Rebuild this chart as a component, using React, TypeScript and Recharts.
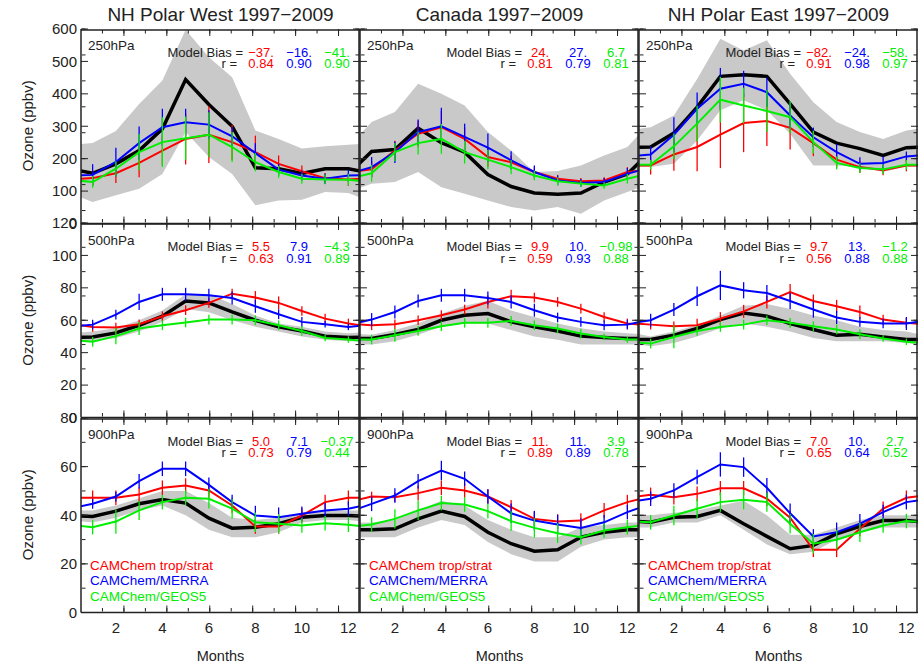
import { ComposedChart, Line, Area, XAxis, YAxis, ErrorBar } from 'recharts'

const months = [1, 2, 3, 4, 5, 6, 7, 8, 9, 10, 11, 12]
const evenMonths = [2, 4, 6, 8, 10, 12]
const regionTitles = ['NH Polar West 1997−2009', 'Canada 1997−2009', 'NH Polar East 1997−2009']
const levelLabels = ['250hPa', '500hPa', '900hPa']
const modelNames = ['CAMChem trop/strat', 'CAMChem/MERRA', 'CAMChem/GEOS5']
const yMax = [600, 120, 80]
const yStep = [100, 20, 20]
const yMinorStep = [20, 5, 5]

// ---- 250 hPa ----
const westObs250 = [155, 184, 225, 292, 444, 367, 300, 172, 169, 154, 169, 169]
const westLo250 = [66, 87, 107, 153, 282, 205, 153, 56, 71, 73, 97, 94]
const westHi250 = [248, 285, 369, 441, 598, 513, 451, 287, 261, 231, 238, 243]
const westTrop250 = [140, 155, 187, 225, 261, 274, 251, 220, 184, 161, 140, 136]
const westMerra250 = [150, 190, 248, 297, 312, 305, 269, 217, 166, 148, 138, 148]
const westGeos250 = [128, 169, 220, 251, 263, 274, 236, 189, 159, 138, 136, 135]
const westTropErr250 = [25, 30, 44, 46, 79, 87, 54, 51, 26, 18, 15, 20]
const westMerraErr250 = [33, 44, 51, 57, 42, 44, 28, 31, 18, 15, 16, 18]
const westGeosErr250 = [18, 23, 56, 77, 67, 69, 46, 28, 18, 15, 15, 18]

const canObs250 = [222, 228, 294, 249, 220, 151, 114, 94, 90, 94, 128, 153]
const canLo250 = [123, 128, 159, 112, 92, 71, 51, 40, 51, 30, 71, 97]
const canHi250 = [313, 344, 431, 400, 364, 282, 225, 159, 162, 179, 210, 236]
const canTrop250 = [167, 225, 277, 297, 261, 205, 189, 159, 138, 130, 133, 159]
const canMerra250 = [174, 220, 282, 300, 267, 234, 195, 159, 133, 125, 128, 153]
const canGeos250 = [155, 220, 248, 261, 220, 197, 174, 148, 130, 123, 117, 138]
const canTropErr250 = [25, 30, 40, 50, 35, 30, 20, 15, 12, 10, 10, 15]
const canMerraErr250 = [31, 33, 39, 57, 41, 44, 28, 20, 15, 12, 12, 18]
const canGeosErr250 = [26, 28, 35, 46, 35, 30, 22, 15, 12, 10, 10, 15]

const eastObs250 = [236, 279, 359, 454, 459, 454, 369, 282, 248, 231, 210, 234]
const eastLo250 = [174, 184, 256, 349, 380, 349, 277, 179, 179, 174, 159, 176]
const eastHi250 = [297, 333, 446, 570, 534, 565, 462, 374, 313, 282, 261, 287]
const eastTrop250 = [179, 213, 236, 274, 310, 316, 295, 248, 197, 174, 164, 179]
const eastMerra250 = [213, 274, 354, 416, 431, 405, 333, 266, 220, 184, 187, 207]
const eastGeos250 = [181, 238, 308, 382, 364, 347, 328, 251, 187, 171, 167, 181]
const eastTropErr250 = [28, 50, 75, 103, 90, 77, 67, 40, 25, 18, 15, 18]
const eastMerraErr250 = [25, 54, 50, 64, 40, 45, 40, 30, 25, 20, 20, 15]
const eastGeosErr250 = [15, 40, 55, 70, 55, 65, 50, 35, 20, 15, 15, 15]

// ---- 500 hPa ----
const westObs500 = [49.7, 52.2, 56.9, 62.5, 71.9, 70.7, 65.1, 60, 55.9, 53.4, 50.2, 49.3]
const westLo500 = [47, 49, 53, 59, 67, 65, 60, 56, 53, 50, 48, 47]
const westHi500 = [53, 55, 60, 66, 76, 76, 70, 63, 58, 56, 53, 52]
const westTrop500 = [55.9, 55.5, 57.5, 62.5, 66.2, 70.7, 76.4, 74, 70.7, 65.7, 61, 58]
const westMerra500 = [57.3, 63.5, 71.3, 76, 76, 75.4, 73.7, 68.6, 63.7, 59, 57.5, 55.9]
const westGeos500 = [46.7, 50.2, 54.9, 56.9, 58.6, 60.4, 60.4, 60, 56.9, 53.4, 49.1, 48.1]
const westTropErr500 = [3, 3, 3, 3, 3, 3, 3, 4, 4, 3, 3, 3]
const westMerraErr500 = [3, 3, 5, 4, 4, 4, 4, 4, 3, 3, 2, 2]
const westGeosErr500 = [3, 5, 4, 3, 3, 3, 3, 3, 3, 3, 2, 2]

const canObs500 = [48.7, 51.2, 54.3, 60, 63.1, 64.1, 59, 55.9, 53.4, 50.2, 49.3, 48.7]
const canLo500 = [45, 47, 51, 56, 58, 58, 54, 50, 48, 45, 45, 45]
const canHi500 = [51, 54, 58, 64, 69, 72, 66, 62, 58, 55, 53, 52]
const canTrop500 = [56.9, 57.5, 60, 63.1, 66.6, 71.3, 74.8, 74, 71.3, 67.2, 62, 58]
const canMerra500 = [60.4, 65.1, 71.9, 75.4, 75.4, 73.7, 71.3, 66.2, 61.7, 59, 56.9, 57.3]
const canGeos500 = [48.1, 50.8, 53.4, 56.3, 58.4, 58.4, 59.6, 56.9, 54.9, 51.8, 49.7, 48.1]
const canTropErr500 = [3, 3, 3, 3, 3, 4, 4, 3, 3, 3, 3, 3]
const canMerraErr500 = [4, 4, 4, 4, 4, 4, 4, 4, 3, 3, 3, 3]
const canGeosErr500 = [3, 4, 3, 3, 3, 3, 3, 3, 3, 3, 2, 2]

const eastObs500 = [48.1, 50.8, 54.9, 60.4, 64.5, 62.5, 58, 54.3, 50.8, 51.4, 49.7, 48.1]
const eastLo500 = [44, 46, 50, 55, 58, 56, 53, 49, 47, 47, 47, 46]
const eastHi500 = [50, 53, 57, 63, 69, 70, 67, 63, 60, 56, 54, 53]
const eastTrop500 = [57.3, 56.3, 56.9, 61, 65.5, 71.3, 77.4, 71.9, 68.6, 65.1, 60.4, 58.4]
const eastMerra500 = [60, 66.6, 74.8, 81.5, 78.5, 76.8, 71.9, 66.6, 61.7, 59, 58, 58]
const eastGeos500 = [45.6, 49.7, 53.4, 55.9, 57.3, 60, 58.4, 56.3, 54.3, 51.4, 48.7, 46.7]
const eastTropErr500 = [3, 3, 4, 4, 4, 4, 5, 4, 4, 4, 3, 3]
const eastMerraErr500 = [4, 4, 6, 9, 5, 5, 5, 5, 4, 3, 3, 4]
const eastGeosErr500 = [3, 7, 3, 3, 3, 3, 3, 3, 3, 3, 2, 2]

// ---- 900 hPa ----
const westObs900 = [39.5, 41.7, 44.7, 46.5, 45, 38.8, 34.7, 35.1, 36.5, 39.2, 39.9, 39.9]
const westLo900 = [37, 39, 42, 44, 40, 34, 31, 31, 33, 37, 38, 38]
const westHi900 = [42, 44, 47, 50, 50, 45, 39, 38, 39, 41, 42, 42]
const westTrop900 = [47.2, 47.2, 48.5, 51.3, 52.2, 50.2, 44, 35.4, 35.4, 39.9, 45.4, 47.2]
const westMerra900 = [44.7, 47.7, 54, 59.1, 59.1, 52.5, 45.4, 39.9, 39.2, 40.6, 42, 42.7]
const westGeos900 = [35.1, 37.4, 42, 45.4, 47.2, 46.8, 42.7, 37.1, 36.5, 35.8, 36.7, 36.1]
const westTropErr900 = [3, 3, 3, 3, 3, 3, 3, 3, 3, 3, 3, 3]
const westMerraErr900 = [2, 2, 3, 3, 3, 3, 3, 4, 4, 3, 3, 3]
const westGeosErr900 = [3, 5, 4, 3, 3, 4, 4, 4, 4, 3, 3, 3]

const canObs900 = [34, 34.4, 38.5, 41.7, 39.5, 33, 28.3, 25.2, 25.8, 31, 33, 34]
const canLo900 = [31, 31, 35, 38, 36, 29, 24, 21, 21, 27, 30, 31]
const canHi900 = [37, 38, 42, 46, 44, 38, 34, 31, 31, 35, 36, 37]
const canTrop900 = [47.7, 47.4, 49.1, 51.3, 50.2, 47.7, 43.3, 38.5, 37.4, 37.8, 42, 45.4]
const canMerra900 = [44.7, 48.1, 54, 58.4, 55, 47.7, 40.8, 37.8, 36.2, 34.8, 37.1, 41.3]
const canGeos900 = [36.2, 38.5, 42, 45, 44.4, 41.7, 37.6, 34.8, 32.6, 31, 33.7, 35.1]
const canTropErr900 = [2, 2, 3, 3, 3, 3, 3, 3, 3, 3, 3, 3]
const canMerraErr900 = [3, 3, 3, 4, 3, 3, 4, 4, 4, 4, 3, 3]
const canGeosErr900 = [3, 4, 4, 3, 3, 3, 4, 4, 4, 3, 3, 3]

const eastObs900 = [37.1, 39.2, 39.5, 42, 36.5, 31.3, 26.2, 27.6, 32.4, 35.4, 37.8, 37.8]
const eastLo900 = [35, 37, 37, 40, 34, 28, 24, 25, 30, 33, 35, 35]
const eastHi900 = [40, 41, 42, 44, 46, 40, 32, 32, 35, 38, 40, 40]
const eastTrop900 = [48.4, 47.4, 48.8, 51.1, 51.1, 46.8, 39, 25.8, 25.8, 34.4, 42.7, 47.2]
const eastMerra900 = [46.8, 50.2, 55.7, 60.9, 59.8, 51.3, 40.8, 31.3, 33, 36.5, 41.3, 45.4]
const eastGeos900 = [37.1, 39.9, 42.7, 45.4, 46.4, 45.4, 36.5, 28.3, 29.9, 33, 35.8, 37.6]
const eastTropErr900 = [3, 3, 3, 3, 3, 3, 3, 3, 3, 3, 3, 3]
const eastMerraErr900 = [3, 3, 3, 5, 4, 4, 4, 3, 4, 4, 3, 3]
const eastGeosErr900 = [3, 4, 4, 4, 4, 4, 4, 4, 4, 4, 3, 3]

// bias / correlation annotations (trop/strat, MERRA, GEOS5)
const westBias250 = ['−37.', '−16.', '−41.']
const canBias250 = ['24.', '27.', '6.7']
const eastBias250 = ['−82.', '−24.', '−58.']
const westBias500 = ['5.5', '7.9', '−4.3']
const canBias500 = ['9.9', '10.', '−0.98']
const eastBias500 = ['9.7', '13.', '−1.2']
const westBias900 = ['5.0', '7.1', '−0.37']
const canBias900 = ['11.', '11.', '3.9']
const eastBias900 = ['7.0', '10.', '2.7']
const westR250 = ['0.84', '0.90', '0.90']
const canR250 = ['0.81', '0.79', '0.81']
const eastR250 = ['0.91', '0.98', '0.97']
const westR500 = ['0.63', '0.91', '0.89']
const canR500 = ['0.59', '0.93', '0.88']
const eastR500 = ['0.56', '0.88', '0.88']
const westR900 = ['0.73', '0.79', '0.44']
const canR900 = ['0.89', '0.89', '0.78']
const eastR900 = ['0.65', '0.64', '0.52']

const RED = '#ff0000'
const BLUE = '#0000ff'
const GREEN = '#00ee00'
const INK = '#222'
const BAND = '#c9c9c9'
const FONT = '"Liberation Sans", Arial, Helvetica, sans-serif'
const modelColors = [RED, BLUE, GREEN]

// row-major: 250, 500, 900 hPa x West, Canada, East
const panels = [
  { obs: westObs250, lo: westLo250, hi: westHi250, trop: westTrop250, merra: westMerra250, geos: westGeos250, tropErr: westTropErr250, merraErr: westMerraErr250, geosErr: westGeosErr250, bias: westBias250, r: westR250 },
  { obs: canObs250, lo: canLo250, hi: canHi250, trop: canTrop250, merra: canMerra250, geos: canGeos250, tropErr: canTropErr250, merraErr: canMerraErr250, geosErr: canGeosErr250, bias: canBias250, r: canR250 },
  { obs: eastObs250, lo: eastLo250, hi: eastHi250, trop: eastTrop250, merra: eastMerra250, geos: eastGeos250, tropErr: eastTropErr250, merraErr: eastMerraErr250, geosErr: eastGeosErr250, bias: eastBias250, r: eastR250 },
  { obs: westObs500, lo: westLo500, hi: westHi500, trop: westTrop500, merra: westMerra500, geos: westGeos500, tropErr: westTropErr500, merraErr: westMerraErr500, geosErr: westGeosErr500, bias: westBias500, r: westR500 },
  { obs: canObs500, lo: canLo500, hi: canHi500, trop: canTrop500, merra: canMerra500, geos: canGeos500, tropErr: canTropErr500, merraErr: canMerraErr500, geosErr: canGeosErr500, bias: canBias500, r: canR500 },
  { obs: eastObs500, lo: eastLo500, hi: eastHi500, trop: eastTrop500, merra: eastMerra500, geos: eastGeos500, tropErr: eastTropErr500, merraErr: eastMerraErr500, geosErr: eastGeosErr500, bias: eastBias500, r: eastR500 },
  { obs: westObs900, lo: westLo900, hi: westHi900, trop: westTrop900, merra: westMerra900, geos: westGeos900, tropErr: westTropErr900, merraErr: westMerraErr900, geosErr: westGeosErr900, bias: westBias900, r: westR900 },
  { obs: canObs900, lo: canLo900, hi: canHi900, trop: canTrop900, merra: canMerra900, geos: canGeos900, tropErr: canTropErr900, merraErr: canMerraErr900, geosErr: canGeosErr900, bias: canBias900, r: canR900 },
  { obs: eastObs900, lo: eastLo900, hi: eastHi900, trop: eastTrop900, merra: eastMerra900, geos: eastGeos900, tropErr: eastTropErr900, merraErr: eastMerraErr900, geosErr: eastGeosErr900, bias: eastBias900, r: eastR900 },
]

type PanelData = (typeof panels)[number]

// plot-area geometry (px)
const PLOT_L = 81
const PLOT_T = 28.5
const PW = 279
const PH = 194.5
const ML = 60
const MT = 10
const MR = 10
const MB = 40

const range = (start: number, stop: number, step: number) =>
  Array.from({ length: Math.round((stop - start) / step) + 1 }, (_, i) => start + i * step)

const halfMonths = months.flatMap((m) => [m - 0.5, m]).slice(1)

// Dec is repeated before Jan and Jan after Dec so the curves run to the frame edges
const wrap = (a: number[]) => [a[11], ...a, a[0]]

function buildRows(p: PanelData) {
  const obs = wrap(p.obs)
  const lo = wrap(p.lo)
  const hi = wrap(p.hi)
  const trop = wrap(p.trop)
  const merra = wrap(p.merra)
  const geos = wrap(p.geos)
  return [0, ...months, 13].map((m, i) => {
    const inner = i >= 1 && i <= 12
    return {
      m,
      obs: obs[i],
      band: [lo[i], hi[i]],
      trop: trop[i],
      merra: merra[i],
      geos: geos[i],
      tropErr: inner ? p.tropErr[i - 1] : undefined,
      merraErr: inner ? p.merraErr[i - 1] : undefined,
      geosErr: inner ? p.geosErr[i - 1] : undefined,
    }
  })
}

const blank = () => <g />

function Panel({ row, col }: { row: number; col: number }) {
  const p = panels[row * 3 + col]
  const data = buildRows(p)
  const left = PLOT_L + col * PW
  const top = PLOT_T + row * PH
  const yDomain = [0, yMax[row]]
  const majorY = range(0, yMax[row], yStep[row])
  const minorY = range(0, yMax[row], yMinorStep[row])
  const tickStroke = { stroke: INK, strokeWidth: 1 }
  const frame = { stroke: INK, strokeWidth: 1.5 }
  // axes need a non-zero size to be drawn; the main ones take 1px out of the margin
  const xCommon = { type: 'number' as const, domain: [0.5, 12.5], allowDataOverflow: true, height: 1 }
  const yCommon = { type: 'number' as const, domain: yDomain, allowDataOverflow: true, width: 1 }

  return (
    <div style={{ position: 'absolute', left: left - ML, top: top - MT }}>
      <ComposedChart width={PW + ML + MR} height={PH + MT + MB} data={data} margin={{ top: MT, right: MR, bottom: MB - 1, left: ML - 1 }}>
        <XAxis xAxisId="main" dataKey="m" {...xCommon} ticks={evenMonths} tickSize={0} tickMargin={10} tickLine={false}
          tick={row === 2 ? { fontSize: 15, fill: INK, fontFamily: FONT } : false} axisLine={frame} />
        <XAxis xAxisId="bMinor" orientation="bottom" mirror {...xCommon} ticks={halfMonths} tickSize={3.5} tick={blank} tickLine={tickStroke} axisLine={false} />
        <XAxis xAxisId="bMajor" orientation="bottom" mirror {...xCommon} ticks={evenMonths} tickSize={7} tick={blank} tickLine={tickStroke} axisLine={false} />
        <XAxis xAxisId="tMinor" orientation="top" mirror {...xCommon} ticks={halfMonths} tickSize={3.5} tick={blank} tickLine={tickStroke} axisLine={frame} />
        <XAxis xAxisId="tMajor" orientation="top" mirror {...xCommon} ticks={evenMonths} tickSize={7} tick={blank} tickLine={tickStroke} axisLine={false} />

        <YAxis yAxisId="main" {...yCommon} ticks={majorY} tickSize={0} tickMargin={4} tickLine={false}
          tick={col === 0 ? { fontSize: 15, fill: INK, fontFamily: FONT } : false} axisLine={frame} />
        <YAxis yAxisId="lMinor" orientation="left" mirror {...yCommon} ticks={minorY} tickSize={3.5} tick={blank} tickLine={tickStroke} axisLine={false} />
        <YAxis yAxisId="lMajor" orientation="left" mirror {...yCommon} ticks={majorY} tickSize={7} tick={blank} tickLine={tickStroke} axisLine={false} />
        <YAxis yAxisId="rMinor" orientation="right" mirror {...yCommon} ticks={minorY} tickSize={3.5} tick={blank} tickLine={tickStroke} axisLine={frame} />
        <YAxis yAxisId="rMajor" orientation="right" mirror {...yCommon} ticks={majorY} tickSize={7} tick={blank} tickLine={tickStroke} axisLine={false} />

        <Area xAxisId="main" yAxisId="main" type="linear" dataKey="band" stroke="none" fill={BAND} fillOpacity={1} isAnimationActive={false} />
        <Line xAxisId="main" yAxisId="main" type="linear" dataKey="obs" stroke="#000" strokeWidth={3.5} dot={false} isAnimationActive={false} />
        <Line xAxisId="main" yAxisId="main" type="linear" dataKey="trop" stroke={RED} strokeWidth={2} dot={false} isAnimationActive={false}>
          <ErrorBar dataKey="tropErr" direction="y" width={0} stroke={RED} strokeWidth={1.3} isAnimationActive={false} />
        </Line>
        <Line xAxisId="main" yAxisId="main" type="linear" dataKey="merra" stroke={BLUE} strokeWidth={2} dot={false} isAnimationActive={false}>
          <ErrorBar dataKey="merraErr" direction="y" width={0} stroke={BLUE} strokeWidth={1.3} isAnimationActive={false} />
        </Line>
        <Line xAxisId="main" yAxisId="main" type="linear" dataKey="geos" stroke={GREEN} strokeWidth={2} dot={false} isAnimationActive={false}>
          <ErrorBar dataKey="geosErr" direction="y" width={0} stroke={GREEN} strokeWidth={1.3} isAnimationActive={false} />
        </Line>
      </ComposedChart>
    </div>
  )
}

function Annotations() {
  const cells = []
  for (let row = 0; row < 3; row++) {
    for (let col = 0; col < 3; col++) {
      const p = panels[row * 3 + col]
      const left = PLOT_L + col * PW
      const top = PLOT_T + row * PH
      cells.push(
        <g key={`${row}-${col}`}>
          <text x={left + 7} y={top + 21.5} fontSize={13.5} fill={INK}>{levelLabels[row]}</text>
          <text x={left + 162} y={top + 28} fontSize={13} fill={INK} textAnchor="end">Model Bias =</text>
          <text x={left + 156} y={top + 39.5} fontSize={13} fill={INK} textAnchor="end">r =</text>
          {p.bias.map((b, i) => (
            <text key={`b${i}`} x={left + 180 + i * 38} y={top + 28} fontSize={13} fill={modelColors[i]} textAnchor="middle">{b}</text>
          ))}
          {p.r.map((v, i) => (
            <text key={`r${i}`} x={left + 180 + i * 38} y={top + 39.5} fontSize={13} fill={modelColors[i]} textAnchor="middle">{v}</text>
          ))}
          {row === 2 && modelNames.map((n, i) => (
            <text key={n} x={left + 9} y={569.5 + i * 15.8} fontSize={13.5} fill={modelColors[i]}>{n}</text>
          ))}
        </g>,
      )
    }
  }
  return (
    <svg width={919} height={665} style={{ position: 'absolute', left: 0, top: 0, pointerEvents: 'none' }} fontFamily={FONT}>
      {regionTitles.map((t, col) => (
        <text key={t} x={PLOT_L + col * PW + PW / 2} y={21} fontSize={19} fill={INK} textAnchor="middle">{t}</text>
      ))}
      {levelLabels.map((l, row) => (
        <text key={l} transform={`translate(33, ${PLOT_T + row * PH + PH / 2}) rotate(-90)`} fontSize={15} fill={INK} textAnchor="middle">Ozone (ppbv)</text>
      ))}
      {regionTitles.map((t, col) => (
        <text key={`months-${t}`} x={PLOT_L + col * PW + PW / 2} y={661} fontSize={14.5} fill={INK} textAnchor="middle">Months</text>
      ))}
      {cells}
    </svg>
  )
}

export default function App() {
  return (
    <div style={{ position: 'absolute', left: 0, top: 0, width: 919, height: 665, background: '#fff', fontFamily: FONT }}>
      {[0, 1, 2].map((row) => [0, 1, 2].map((col) => <Panel key={`${row}-${col}`} row={row} col={col} />))}
      <Annotations />
    </div>
  )
}
